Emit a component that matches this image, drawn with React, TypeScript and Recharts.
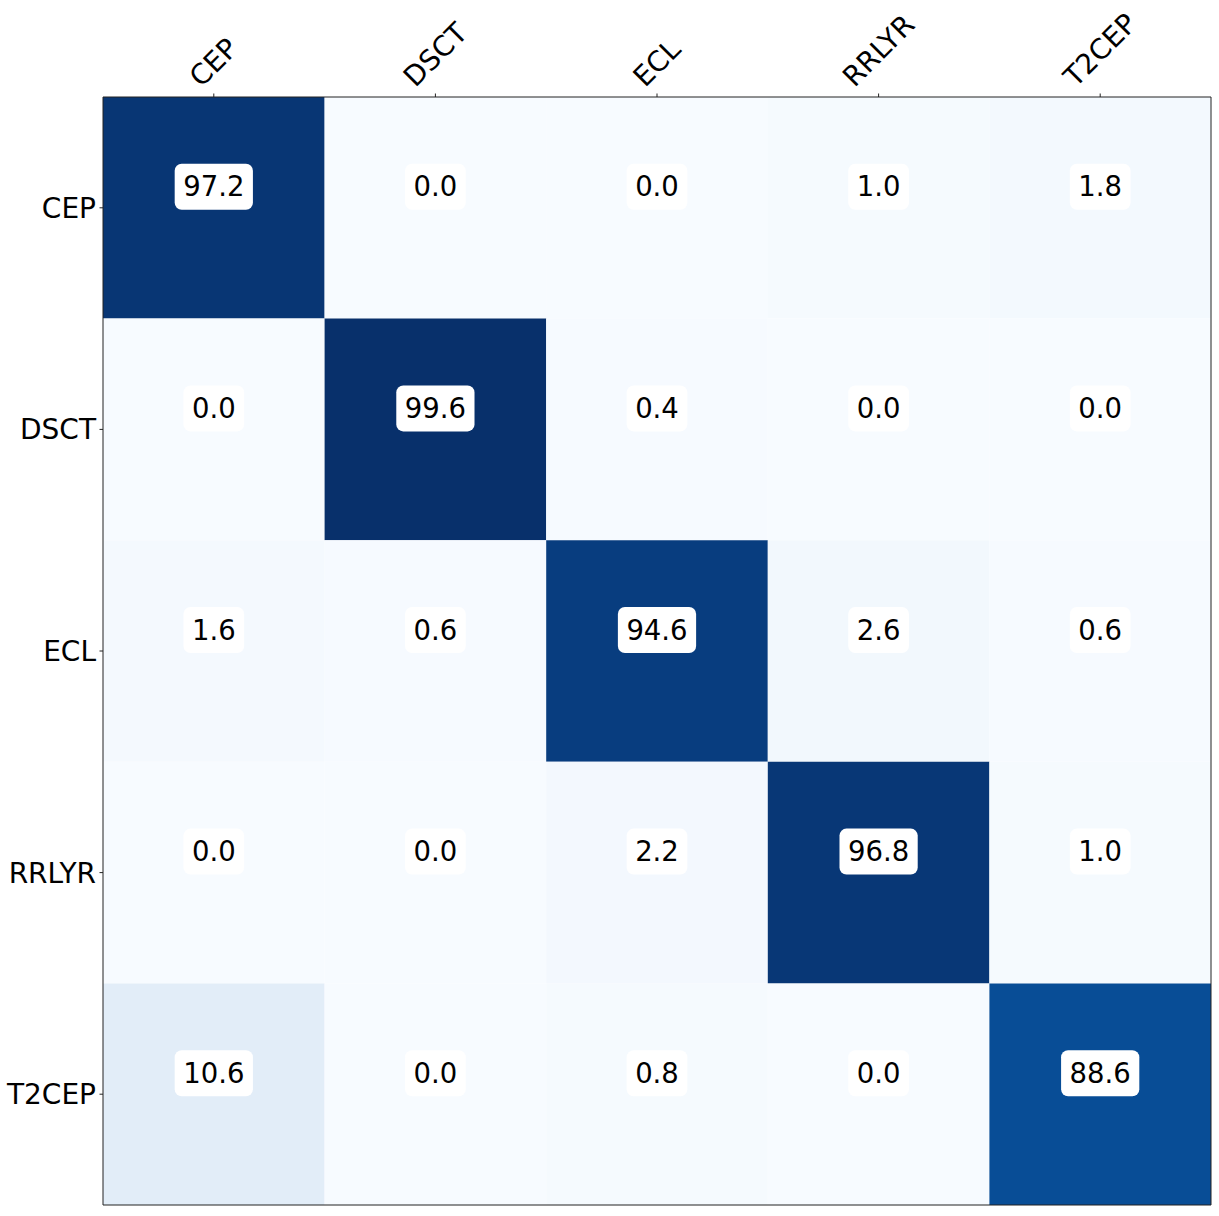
import { ScatterChart, Scatter, XAxis, YAxis, ReferenceArea } from 'recharts';

const categories = ['CEP', 'DSCT', 'ECL', 'RRLYR', 'T2CEP'];

// rows = true class, columns = predicted class (percent)
const cepRow = [97.2, 0.0, 0.0, 1.0, 1.8];
const dsctRow = [0.0, 99.6, 0.4, 0.0, 0.0];
const eclRow = [1.6, 0.6, 94.6, 2.6, 0.6];
const rrlyrRow = [0.0, 0.0, 2.2, 96.8, 1.0];
const t2cepRow = [10.6, 0.0, 0.8, 0.0, 88.6];

const matrix = [cepRow, dsctRow, eclRow, rrlyrRow, t2cepRow];
const tickIndex = [0, 1, 2, 3, 4];

// matplotlib "Blues"
const BLUES = ['#f7fbff', '#deebf7', '#c6dbef', '#9ecae1', '#6baed6', '#4292c6', '#2171b5', '#08519c', '#08306b'];

const FONT = 'DejaVu Sans, sans-serif';
const FS_TICK = 28;
const FS_ANN = 27.5;

function hexToRgb(h: string) {
  return [parseInt(h.slice(1, 3), 16), parseInt(h.slice(3, 5), 16), parseInt(h.slice(5, 7), 16)];
}

function blues(t: number) {
  const p = Math.max(0, Math.min(1, t)) * (BLUES.length - 1);
  const i = Math.min(Math.floor(p), BLUES.length - 2);
  const f = p - i;
  const a = hexToRgb(BLUES[i]);
  const b = hexToRgb(BLUES[i + 1]);
  const c = a.map((v, k) => Math.round(v + (b[k] - v) * f));
  return `rgb(${c[0]},${c[1]},${c[2]})`;
}

let ctx: CanvasRenderingContext2D | null = null;
function textWidth(s: string, fs: number) {
  if (!ctx) ctx = document.createElement('canvas').getContext('2d');
  if (!ctx) return s.length * fs * 0.6;
  ctx.font = `${fs}px DejaVu Sans`;
  return ctx.measureText(s).width;
}

const allValues = matrix.flat();
const vmin = Math.min(...allValues);
const vmax = Math.max(...allValues);

const cells = matrix.flatMap((row, r) =>
  row.map((v, c) => ({ x: c, y: r, value: v, label: v.toFixed(1) }))
);

function TopTick({ x, y, payload }: any) {
  const label = categories[payload.value];
  const w = textWidth(label, FS_TICK);
  const h = FS_TICK * 0.85;
  const bh = (w + h) / Math.SQRT2;
  const cy = y - bh / 2;
  return (
    <text
      x={x}
      y={cy}
      textAnchor="middle"
      dominantBaseline="central"
      transform={`rotate(-45 ${x} ${cy})`}
      fontFamily={FONT}
      fontSize={FS_TICK}
      fill="#000"
    >
      {label}
    </text>
  );
}

function LeftTick({ x, y, payload }: any) {
  return (
    <text x={x} y={y + 10} textAnchor="end" fontFamily={FONT} fontSize={FS_TICK} fill="#000">
      {categories[payload.value]}
    </text>
  );
}

function EmptyTick() {
  return <g />;
}

function CellLabel({ cx, cy, payload }: any) {
  const label = payload.label;
  const w = textWidth(label, FS_ANN) + 17;
  const h = 46;
  const by = cy - 21;
  return (
    <g>
      <rect x={cx - w / 2} y={by - h / 2} width={w} height={h} rx={7} ry={7} fill="#fff" />
      <text x={cx} y={cy - 11.5} textAnchor="middle" fontFamily={FONT} fontSize={FS_ANN} fill="#000">
        {label}
      </text>
    </g>
  );
}

export default function App() {
  return (
    <div style={{ position: 'absolute', left: 0, top: 0, background: '#fff' }}>
      <ScatterChart width={1219} height={1216} margin={{ top: 0, right: 0, bottom: 0, left: 0 }}>
        <XAxis
          xAxisId="top"
          orientation="top"
          type="number"
          dataKey="x"
          domain={[-0.5, 4.5]}
          ticks={tickIndex}
          interval={0}
          height={97}
          tick={<TopTick />}
          tickSize={3.5}
          tickMargin={3.5}
          stroke="#222"
        />
        <XAxis
          xAxisId="bottom"
          orientation="bottom"
          type="number"
          dataKey="x"
          domain={[-0.5, 4.5]}
          ticks={tickIndex}
          interval={0}
          height={11}
          tick={<EmptyTick />}
          tickSize={3.5}
          stroke="#222"
        />
        <YAxis
          yAxisId="left"
          type="number"
          dataKey="y"
          domain={[-0.5, 4.5]}
          reversed
          ticks={tickIndex}
          interval={0}
          width={103}
          tick={<LeftTick />}
          tickSize={3.5}
          tickMargin={3.5}
          stroke="#222"
        />
        <YAxis
          yAxisId="right"
          orientation="right"
          type="number"
          dataKey="y"
          domain={[-0.5, 4.5]}
          reversed
          width={8}
          tick={false}
          tickLine={false}
          stroke="#222"
        />
        {cells.map((d) => (
          <ReferenceArea
            key={`cell-${d.y}-${d.x}`}
            xAxisId="top"
            yAxisId="left"
            x1={d.x - 0.5}
            x2={d.x + 0.5}
            y1={d.y - 0.5}
            y2={d.y + 0.5}
            fill={blues((d.value - vmin) / (vmax - vmin))}
            fillOpacity={1}
            stroke="none"
          />
        ))}
        <Scatter
          xAxisId="top"
          yAxisId="left"
          data={cells}
          shape={<CellLabel />}
          isAnimationActive={false}
        />
      </ScatterChart>
    </div>
  );
}
